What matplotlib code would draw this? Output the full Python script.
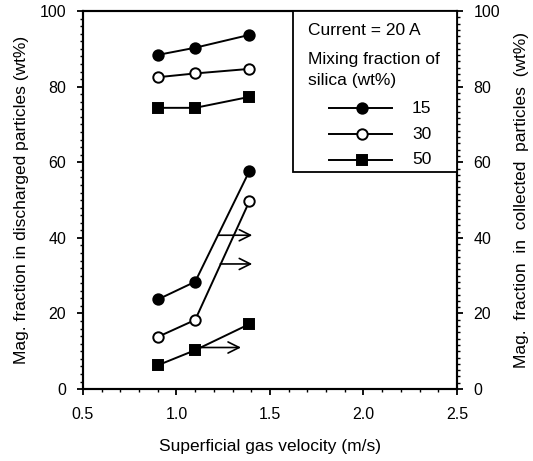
"""
Magnetic fraction in discharged / collected particles vs gas velocity.
"""

import matplotlib
matplotlib.use('Agg')
import matplotlib.pyplot as plt
from matplotlib.patches import Rectangle
from matplotlib.ticker import MultipleLocator, AutoMinorLocator

plt.rcParams['font.family'] = ['Liberation Sans', 'DejaVu Sans']

# data
velocity = [0.9, 1.1, 1.39]
silica = ['15', '30', '50']
markers = ['o', 'o', 's']
faces = ['black', 'white', 'black']

# discharged particles (left axis)
discharged = {
    '15': [23.7, 28.4, 57.7],
    '30': [13.8, 18.3, 49.7],
    '50': [6.3, 10.3, 17.2],
}
# collected particles (right axis)
collected = {
    '15': [88.4, 90.3, 93.7],
    '30': [82.5, 83.5, 84.7],
    '50': [74.4, 74.4, 77.3],
}
# arrows pointing to the right axis: (x start, x end, y)
arrows = [(1.222, 1.405, 40.7), (1.234, 1.405, 33.1), (1.13, 1.345, 11.0)]


def main():
    fig = plt.figure(figsize=(5.33, 4.61), dpi=100)
    ax = fig.add_axes([0.1557, 0.156, 0.7017, 0.82])
    ax2 = ax.twinx()

    style = dict(color='black', lw=1.4, ms=7.5, mec='black', mew=1.4)
    for s, m, fc in zip(silica, markers, faces):
        ax.plot(velocity, discharged[s], marker=m, mfc=fc, **style)
        ax2.plot(velocity, collected[s], marker=m, mfc=fc, **style)

    for x0, x1, y in arrows:
        ax.annotate('', xy=(x1, y), xytext=(x0, y),
                    arrowprops=dict(arrowstyle='->', lw=1.2, color='black',
                                    mutation_scale=20, shrinkA=0, shrinkB=0))

    ax.set_xlim(0.5, 2.5)
    ax.set_ylim(0, 100)
    ax2.set_ylim(0, 100)
    ax.set_xticks([0.5, 1.0, 1.5, 2.0, 2.5])
    ax.set_xticklabels(['0.5', '1.0', '1.5', '2.0', '2.5'])
    ax.xaxis.set_minor_locator(MultipleLocator(0.1))
    ax.set_yticks([0, 20, 40, 60, 80, 100])
    ax.yaxis.set_minor_locator(MultipleLocator(2))
    ax2.set_yticks([0, 20, 40, 60, 80, 100])
    ax2.yaxis.set_minor_locator(AutoMinorLocator(12))

    for a in (ax, ax2):
        a.tick_params(which='major', length=4, width=1.3, labelsize=11.5,
                      pad=8)
        a.tick_params(which='minor', length=2.2, width=1)
        for sp in a.spines.values():
            sp.set_linewidth(1.5)
    ax.tick_params(axis='x', pad=9)

    ax.set_xlabel('Superficial gas velocity (m/s)', fontsize=12.5,
                  labelpad=12)
    ax.set_ylabel('Mag. fraction in discharged particles (wt%)',
                  fontsize=12.5, labelpad=8)
    ax2.set_ylabel('Mag.  fraction  in  collected  particles  (wt%)',
                   fontsize=12.5, labelpad=10)

    # legend box, drawn in axes coordinates
    tr = ax2.transAxes
    ax2.add_patch(Rectangle((0.561, 0.573), 0.439, 0.427, transform=tr,
                            facecolor='white', edgecolor='black', lw=1.3,
                            zorder=5))
    head = ['Current = 20 A', 'Mixing fraction of', 'silica (wt%)']
    for txt, y in zip(head, [0.948, 0.872, 0.815]):
        ax2.text(0.602, y, txt, transform=tr, fontsize=12.5,
                 va='center', ha='left', zorder=6)
    for s, m, fc, y in zip(silica, markers, faces, [0.743, 0.674, 0.607]):
        ax2.plot([0.658, 0.746, 0.826], [y, y, y], transform=tr,
                 marker=m, mfc=fc, markevery=[1], zorder=6, clip_on=False,
                 **style)
        ax2.text(0.88, y, s, transform=tr, fontsize=12.5, va='center',
                 ha='left', zorder=6)

    fig.savefig('out.png', dpi=100)


main()
